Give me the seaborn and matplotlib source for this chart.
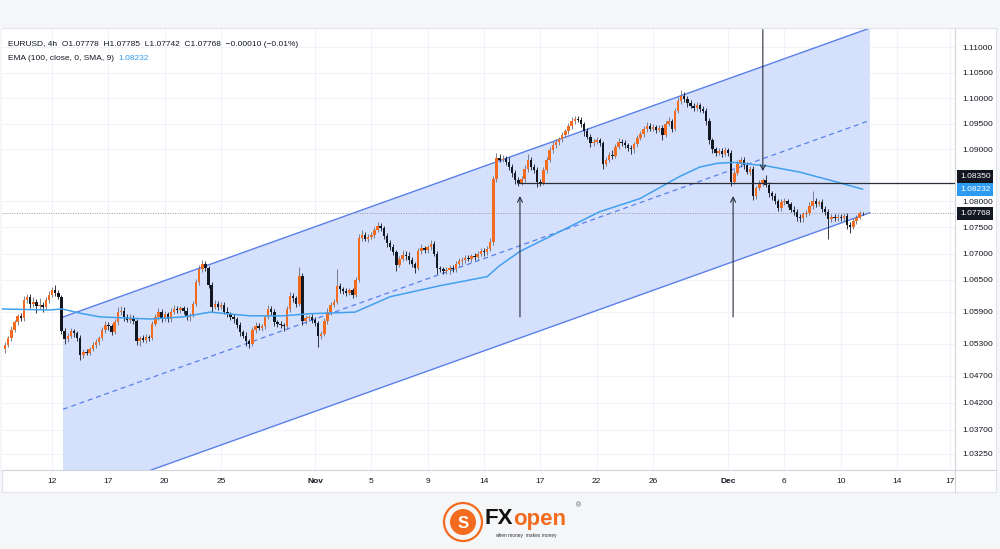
import numpy as np
import pandas as pd
import matplotlib
matplotlib.use('Agg')
import matplotlib.pyplot as plt
import matplotlib.transforms as mtransforms
from matplotlib.patches import Rectangle, Ellipse
from matplotlib.lines import Line2D
from matplotlib.ticker import FixedLocator, FixedFormatter, NullLocator, NullFormatter
import seaborn as sns

# --- data (EURUSD 4h) ---
first_bar = '2023-10-09 12:00'
last_bar = '2023-12-12 04:00'
first_open = 1.0520

closes = [
    1.0528, 1.0540, 1.0556,                          # Oct 9
    1.0570, 1.0582, 1.0577, 1.0612, 1.0618, 1.0605,  # Oct 10
    1.0608, 1.0600, 1.0603, 1.0598, 1.0612, 1.0622,
    1.0630, 1.0625, 1.0618, 1.0553, 1.0538, 1.0545,  # Oct 12
    1.0553, 1.0549, 1.0540, 1.0508, 1.0515, 1.0513,
    1.0520, 1.0527, 1.0533, 1.0540, 1.0555, 1.0565,  # Oct 16
    1.0562, 1.0551, 1.0570, 1.0590, 1.0592, 1.0580,
    1.0575, 1.0578, 1.0572, 1.0534, 1.0540, 1.0537,
    1.0542, 1.0540, 1.0567, 1.0580, 1.0589, 1.0578,
    1.0585, 1.0576, 1.0590, 1.0595, 1.0593, 1.0596,  # Oct 20
    1.0592, 1.0580, 1.0583, 1.0605, 1.0646, 1.0670,  # Oct 23
    1.0680, 1.0672, 1.0640, 1.0598, 1.0605, 1.0599,
    1.0603, 1.0590, 1.0585, 1.0580, 1.0576, 1.0565,
    1.0551, 1.0545, 1.0534, 1.0530, 1.0555, 1.0563,
    1.0560, 1.0562, 1.0580, 1.0595, 1.0590, 1.0570,  # Oct 27
    1.0567, 1.0565, 1.0562, 1.0595, 1.0620, 1.0615,  # Oct 30
    1.0605, 1.0657, 1.0572, 1.0578, 1.0580, 1.0575,
    1.0568, 1.0545, 1.0548, 1.0572, 1.0590, 1.0603,  # Nov 1
    1.0608, 1.0638, 1.0632, 1.0628, 1.0625, 1.0630,
    1.0622, 1.0650, 1.0730, 1.0735, 1.0728, 1.0732,  # Nov 3
    1.0735, 1.0745, 1.0753, 1.0748, 1.0733, 1.0720,  # Nov 6
    1.0712, 1.0703, 1.0678, 1.0690, 1.0698, 1.0696,
    1.0688, 1.0680, 1.0672, 1.0705, 1.0710, 1.0707,
    1.0712, 1.0718, 1.0700, 1.0672, 1.0670, 1.0666,
    1.0668, 1.0673, 1.0670, 1.0680, 1.0685, 1.0688,  # Nov 10
    1.0692, 1.0690, 1.0695, 1.0693, 1.0700, 1.0705,  # Nov 13
    1.0702, 1.0708, 1.0722, 1.0843, 1.0884, 1.0880,
    1.0882, 1.0876, 1.0866, 1.0855, 1.0840, 1.0836,
    1.0842, 1.0862, 1.0880, 1.0866, 1.0860, 1.0838,
    1.0836, 1.0860, 1.0880, 1.0898, 1.0908, 1.0915,  # Nov 17
    1.0920, 1.0928, 1.0935, 1.0945, 1.0955, 1.0960,  # Nov 20
    1.0958, 1.0950, 1.0935, 1.0925, 1.0912, 1.0915,
    1.0918, 1.0912, 1.0872, 1.0880, 1.0890, 1.0888,
    1.0905, 1.0915, 1.0912, 1.0908, 1.0903, 1.0900,
    1.0910, 1.0922, 1.0930, 1.0940, 1.0945, 1.0940,  # Nov 24
    1.0943, 1.0938, 1.0942, 1.0928, 1.0950, 1.0955,  # Nov 27
    1.0940, 1.0975, 1.0995, 1.1005, 1.0998, 1.0990,
    1.0985, 1.0980, 1.0986, 1.0978, 1.0975, 1.0955,
    1.0918, 1.0900, 1.0893, 1.0897, 1.0892, 1.0898,
    1.0893, 1.0838, 1.0855, 1.0872, 1.0880, 1.0870,  # Dec 1
    1.0857, 1.0862, 1.0810, 1.0825, 1.0835, 1.0840,  # Dec 4
    1.0832, 1.0815, 1.0810, 1.0800, 1.0787, 1.0798,
    1.0800, 1.0795, 1.0784, 1.0780, 1.0770, 1.0767,
    1.0775, 1.0777, 1.0790, 1.0800, 1.0795, 1.0798,
    1.0785, 1.0780, 1.0765, 1.0770, 1.0768, 1.0770,  # Dec 8
    1.0768, 1.0772, 1.0755, 1.0750, 1.0762, 1.0768,  # Dec 11
    1.07778, 1.07768,
]

# wick lengths in pips above / below the body
wick_up = [
    4, 5, 6,
    5, 4, 6, 8, 6, 5,
    9, 6, 12, 5, 6, 7,
    6, 10, 5, 4, 6, 5,
    6, 5, 4, 6, 5, 4,
    4, 6, 5, 4, 6, 8,
    5, 4, 6, 8, 9, 6,
    6, 8, 5, 4, 5, 6,
    5, 4, 6, 5, 7, 6,
    6, 5, 7, 8, 6, 5,
    5, 6, 4, 5, 6, 8,
    7, 6, 4, 5, 6, 5,
    5, 6, 8, 5, 6, 4,
    5, 4, 6, 5, 6, 8,
    6, 5, 4, 8, 6, 5,
    5, 6, 4, 6, 7, 6,
    5, 18, 6, 5, 4, 5,
    4, 5, 6, 5, 6, 5,
    6, 33, 6, 5, 6, 5,
    5, 6, 8, 9, 6, 5,
    6, 5, 8, 6, 5, 6,
    5, 6, 4, 5, 8, 6,
    6, 5, 4, 6, 8, 5,
    5, 8, 6, 5, 4, 5,
    6, 5, 6, 5, 6, 5,
    5, 6, 5, 6, 5, 6,
    5, 6, 8, 6, 10, 8,
    8, 6, 10, 6, 5, 6,
    6, 8, 12, 6, 5, 6,
    5, 6, 5, 6, 8, 6,
    5, 6, 5, 6, 8, 6,
    6, 5, 4, 6, 5, 6,
    6, 5, 4, 6, 5, 8,
    6, 8, 5, 6, 5, 6,
    5, 6, 5, 6, 8, 6,
    6, 5, 6, 5, 6, 8,
    5, 6, 8, 10, 8, 6,
    6, 5, 6, 5, 6, 5,
    6, 5, 4, 6, 5, 6,
    5, 6, 5, 8, 6, 5,
    6, 5, 6, 5, 6, 5,
    10, 6, 5, 6, 5, 6,
    6, 5, 4, 6, 5, 6,
    5, 6, 8, 20, 6, 5,
    6, 5, 6, 5, 6, 5,
    5, 6, 5, 6, 5, 6,
    4, 0.7,
]
wick_dn = [
    8, 4, 5,
    4, 6, 5, 4, 5, 8,
    6, 12, 5, 8, 4, 5,
    5, 6, 4, 6, 8, 5,
    5, 6, 5, 8, 6, 5,
    5, 4, 6, 5, 4, 5,
    6, 5, 4, 5, 6, 8,
    5, 6, 5, 6, 8, 5,
    6, 5, 4, 5, 6, 8,
    5, 6, 5, 4, 6, 5,
    6, 5, 8, 4, 5, 5,
    5, 6, 5, 8, 4, 6,
    4, 5, 6, 5, 8, 6,
    6, 5, 8, 9, 4, 5,
    5, 6, 5, 4, 6, 8,
    6, 5, 8, 4, 5, 6,
    6, 4, 8, 6, 5, 6,
    5, 22, 6, 4, 5, 6,
    5, 4, 6, 5, 6, 4,
    6, 5, 4, 6, 5, 6,
    5, 6, 4, 5, 6, 8,
    6, 5, 12, 4, 5, 8,
    8, 6, 9, 4, 5, 6,
    6, 5, 4, 10, 6, 5,
    5, 6, 5, 6, 4, 6,
    6, 5, 6, 5, 6, 5,
    6, 5, 4, 5, 6, 5,
    5, 6, 5, 8, 6, 7,
    5, 4, 5, 6, 5, 10,
    6, 4, 5, 4, 5, 6,
    6, 5, 4, 5, 6, 5,
    5, 6, 8, 5, 8, 6,
    5, 6, 10, 4, 5, 6,
    5, 4, 6, 5, 6, 8,
    6, 5, 4, 5, 6, 5,
    5, 6, 5, 10, 4, 5,
    6, 5, 4, 6, 5, 8,
    5, 6, 5, 6, 5, 8,
    8, 6, 5, 4, 6, 5,
    6, 8, 4, 5, 6, 8,
    5, 6, 8, 5, 4, 6,
    5, 6, 8, 5, 6, 5,
    5, 6, 5, 6, 8, 6,
    6, 5, 4, 5, 6, 5,
    5, 6, 38, 5, 6, 5,
    6, 5, 8, 10, 4, 5,
    3, 2.6,
]

# EMA(100) line read at a set of bars
ema_bar = [1.4, 17.3, 21.2, 26.9, 33.3, 49.3, 59.8, 68.5, 81.2, 91.8, 100.4,
           114.8, 126, 142, 157, 161, 167.5, 180.3, 193, 205.8, 218.6, 225,
           230.4, 235.6, 246.4, 257, 267.5, 277]
ema_val = [1.0595, 1.0593, 1.0595, 1.0587, 1.0580, 1.0576, 1.0580, 1.0589,
           1.0582, 1.0582, 1.0586, 1.0589, 1.0618, 1.0639, 1.0656, 1.0677,
           1.0704, 1.0742, 1.0780, 1.0805, 1.0848, 1.0866, 1.0873, 1.0875,
           1.0868, 1.0856, 1.0839, 1.08232]

# parallel channel drawing (bar, price)
chan_bar = [21.5, 279.3]
chan_top = [1.05798, 1.11380]
chan_bot = [1.02379, 1.07780]

level = 1.0835
level_from = 166.5
last_price = 1.07768
ema_last = 1.08232

# arrows: bar, from price, to price
arrows = [(167.5, 1.0580, 1.0810), (235.6, 1.0580, 1.0810), (245.1, 1.1135, 1.0858)]

price_ticks = [1.11, 1.105, 1.10, 1.095, 1.09, 1.08, 1.075, 1.07, 1.065,
               1.059, 1.053, 1.047, 1.042, 1.037, 1.0325]
date_labels = ['12', '17', '20', '25', 'Nov', '5', '9', '14', '17', '22', '26',
               'Dec', '6', '10', '14', '17']
date_ticks = ['2023-10-12', '2023-10-17', '2023-10-20', '2023-10-25', '2023-11-01',
              '2023-11-05', '2023-11-09', '2023-11-14', '2023-11-17', '2023-11-22',
              '2023-11-26', '2023-12-01', '2023-12-06', '2023-12-10', '2023-12-14',
              '2023-12-16 20:00']

header = 'EURUSD, 4h  O1.07778  H1.07785  L1.07742  C1.07768  \u22120.00010 (\u22120.01%)'
ema_title = 'EMA (100, close, 0, SMA, 9)  '

ORANGE = '#f26b1f'
BLACK = '#131722'
EMA_C = '#42a0ee'
CHAN = '#5a80ea'
FS = 6

# --- time axis: weekday bars, then calendar bars in the future area ---
bars = pd.date_range('2023-10-09', last_bar, freq='4h')
bars = bars[bars.dayofweek < 5]
future = pd.date_range(pd.Timestamp(last_bar) + pd.Timedelta('4h'), '2023-12-22', freq='4h')
timeline = bars.append(future)
x = timeline.get_loc(pd.Timestamp(first_bar)) + np.arange(len(closes))
tick_pos = [timeline.searchsorted(pd.Timestamp(d)) for d in date_ticks]

c = np.array(closes)
o = np.r_[first_open, c[:-1]]
hi = np.maximum(o, c) + np.array(wick_up) * 1e-4
lo = np.minimum(o, c) - np.array(wick_dn) * 1e-4
up = c >= o

sns.set_style('white')
plt.rcParams['font.family'] = ['Liberation Sans', 'DejaVu Sans']

fig = plt.figure(figsize=(10, 5.49), dpi=100, facecolor='#f5f6f8')
W, H = 1000, 549
fig.patches.append(Rectangle((2 / W, 1 - 492 / H), 994 / W, 464 / H, transform=fig.transFigure,
                             fc='white', ec='#e0e3eb', lw=0.8, zorder=-5))
ax = fig.add_axes([2 / W, 1 - 470 / H, 953 / W, 441 / H])
ax.set_facecolor('white')
ax.set_yscale('log')
ax.set_ylim(1.02956, 1.11362)
ax.set_xlim(2.0, 306.5)

# channel
poly_x = [chan_bar[0], chan_bar[1], chan_bar[1], chan_bar[0]]
poly_y = [chan_top[0], chan_top[1], chan_bot[1], chan_bot[0]]
ax.fill(poly_x, poly_y, color='#d5e0fd', lw=0, zorder=1)
ax.plot(chan_bar, chan_top, color=CHAN, lw=1.0, zorder=2)
ax.plot(chan_bar, chan_bot, color=CHAN, lw=1.0, zorder=2)
mid = np.sqrt(np.array(chan_top) * np.array(chan_bot))
ax.plot(chan_bar, mid, color=CHAN, lw=0.9, ls=(0, (4, 3)), zorder=2)

# last price dotted line
ax.axhline(last_price, color='#9598a1', lw=0.7, ls=(0, (1, 1.5)), zorder=2)

# candles
wick_col = np.where(up, '#6b6e78', BLACK)
ax.vlines(x, lo, hi, colors=wick_col, lw=0.6, zorder=3)
body_h = np.maximum(np.abs(c - o), 0.00006)
ax.bar(x, body_h, bottom=np.minimum(o, c), width=0.78,
       color=np.where(up, ORANGE, BLACK), lw=0, zorder=4)

# EMA
sns.lineplot(x=ema_bar, y=ema_val, ax=ax, color=EMA_C, lw=1.1, zorder=5)

# support level and arrows
ax.hlines(level, level_from, 306.5, color='#2a2e39', lw=0.9, zorder=6)
for bx, p0, p1 in arrows:
    ax.annotate('', xy=(bx, p1), xytext=(bx, p0),
                arrowprops=dict(arrowstyle='->', color='#2a2e39', lw=0.8,
                                shrinkA=0, shrinkB=0, mutation_scale=9), zorder=7)

# axes styling
ax.yaxis.set_major_locator(FixedLocator(price_ticks))
ax.yaxis.set_major_formatter(FixedFormatter([f'{p:.5f}' for p in price_ticks]))
ax.yaxis.set_minor_locator(NullLocator())
ax.yaxis.set_minor_formatter(NullFormatter())
ax.yaxis.tick_right()
ax.tick_params(axis='y', length=0, pad=5, labelsize=FS, labelcolor=BLACK)
ax.set_xticks(tick_pos)
ax.set_xticklabels(date_labels)
ax.tick_params(axis='x', length=0, pad=6, labelsize=FS, labelcolor=BLACK)
for t in ax.get_xticklabels():
    if t.get_text() in ('Nov', 'Dec'):
        t.set_fontweight('bold')
ax.grid(True, color='#f0f3fa', lw=0.8)
ax.set_axisbelow(True)
for s in ('top', 'left'):
    ax.spines[s].set_visible(False)
for s in ('right', 'bottom'):
    ax.spines[s].set_color('#d1d4dc')
    ax.spines[s].set_linewidth(0.8)
fig.lines.append(Line2D([955 / W, 996 / W], [1 - 470 / H] * 2, transform=fig.transFigure,
                        color='#d1d4dc', lw=0.8))
fig.lines.append(Line2D([955 / W] * 2, [1 - 492 / H, 1 - 470 / H], transform=fig.transFigure,
                        color='#d1d4dc', lw=0.8))

# price badges on the right axis
blend = mtransforms.blended_transform_factory(ax.transAxes, ax.transData)
for price, txt, fc, dy in [(level, '1.08350', BLACK, 5), (ema_last, '1.08232', '#2f9bf0', 0),
                           (last_price, '1.07768', BLACK, 0)]:
    ax.annotate(txt, xy=(1, price), xycoords=blend, xytext=(3.5, dy), textcoords='offset points',
                ha='left', va='center', fontsize=FS, color='white', annotation_clip=False,
                bbox=dict(boxstyle='square,pad=0.35', fc=fc, ec='none'), zorder=10)

# header text
fig.text(8 / W, 1 - 45 / H, header, fontsize=FS, color=BLACK, va='center', ha='left')
t2 = fig.text(8 / W, 1 - 58 / H, ema_title, fontsize=FS, color=BLACK, va='center', ha='left')
fig.canvas.draw()
bb = t2.get_window_extent()
fig.text(bb.x1 / W, 1 - 58 / H, '1.08232', fontsize=FS, color='#2f9bf0', va='center', ha='left')

# FXOpen logo
fig.patches.append(Ellipse((463 / W, 1 - 522 / H), 38 / W, 38 / H, transform=fig.transFigure,
                           fc='none', ec=ORANGE, lw=1.6))
fig.patches.append(Ellipse((463 / W, 1 - 522 / H), 26 / W, 26 / H, transform=fig.transFigure,
                           fc=ORANGE, ec='none'))
fig.text(463 / W, 1 - 523 / H, 'S', fontsize=12, fontweight='bold', color='white',
         ha='center', va='center')
fx = fig.text(485 / W, 1 - 519 / H, 'FX', fontsize=16, fontweight='bold', color='#111111',
              ha='left', va='center')
fig.canvas.draw()
fb = fx.get_window_extent()
fig.text(fb.x1 / W, 1 - 519 / H, 'open', fontsize=16, fontweight='bold', color=ORANGE,
         ha='left', va='center')
fig.text(578 / W, 1 - 506 / H, '\u00ae', fontsize=5, color='#555555', ha='center', va='center')
fig.text(526 / W, 1 - 535 / H, 'when money  makes money', fontsize=3.5, color='#333333',
         ha='center', va='center')

fig.savefig('out.png', dpi=100, facecolor=fig.get_facecolor())
